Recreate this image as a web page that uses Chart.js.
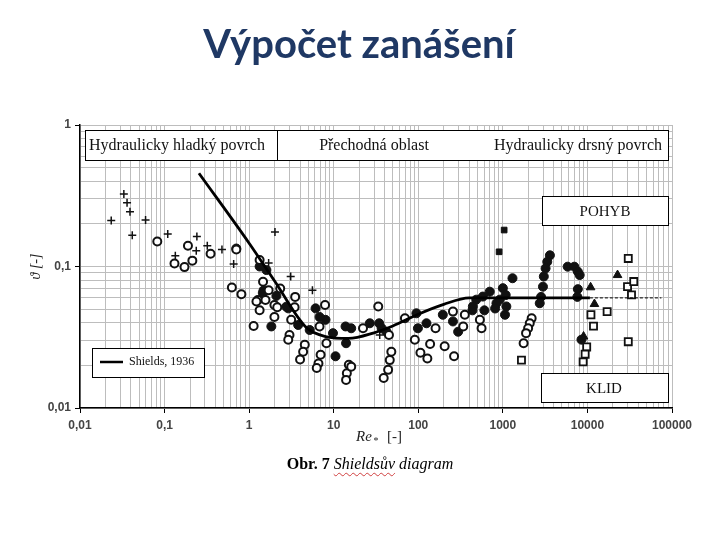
<!DOCTYPE html>
<html>
<head>
<meta charset="utf-8">
<script src="https://cdn.jsdelivr.net/npm/chart.js@4"></script>
<style>
  body { margin: 0; background: #fff; }
  #wrap { position: relative; width: 720px; height: 540px; }
  #title { position: absolute; left: 0; top: 23px; width: 718px; text-align: center;
    font: bold 40px Lato, "Open Sans", sans-serif; line-height: 40px; color: #1f3864; }
  #caption { position: absolute; left: 0; top: 455px; width: 740px; text-align: center;
    font: 16px "Liberation Serif", serif; color: #000; }
  #caption i { text-decoration: underline wavy #d04040; text-decoration-thickness: 1px; text-underline-offset: 3px; }
  canvas { position: absolute; left: 0; top: 0; }
</style>
</head>
<body>
<div id="wrap">
  <canvas id="chart" width="720" height="540"></canvas>
  <div id="title">Výpočet zanášení</div>
  <div id="caption"><b>Obr. 7</b> <i>Shieldsův</i> <i style="text-decoration:none">diagram</i></div>
</div>
<script>
// axis decades (tick labels use a comma as decimal sign)
const xDecades = [0.01, 0.1, 1, 10, 100, 1000, 10000, 100000];
const yDecades = [0.01, 0.1, 1];

// Shields curve, 1936
const shieldsX = [0.255, 1, 2, 4.75, 8, 15, 30, 50, 100, 200, 400, 10700];
const shieldsY = [0.456, 0.146, 0.079, 0.037, 0.032, 0.031, 0.034, 0.038, 0.046, 0.054, 0.06, 0.06];
const shieldsDashX = [10700, 75000];
const shieldsDashY = [0.06, 0.06];

// measured points [Re*, theta]
const plusPts = [[0.0234,0.211],[0.033,0.325],[0.036,0.282],[0.039,0.244],[0.0415,0.166],[0.0596,0.213],
  [0.109,0.17],[0.134,0.119],[0.241,0.163],[0.237,0.129],[0.32,0.14],[0.477,0.132],[0.656,0.104],
  [1.7,0.106],[2.02,0.175],[3.1,0.085],[5.6,0.068],[35,0.0328]];

const openCircles = [[0.082,0.15],[0.131,0.105],[0.172,0.099],[0.213,0.11],[0.189,0.14],[0.35,0.123],
  [0.705,0.132],[0.625,0.071],[0.81,0.0636],[1.33,0.111],[1.46,0.078],[1.27,0.058],[1.56,0.058],
  [1.7,0.068],[1.99,0.0535],[2.15,0.0515],[2.33,0.07],[3.5,0.061],[3.45,0.0515],[1.13,0.038],
  [1.99,0.044],[3.14,0.042],[3.0,0.0328],[2.9,0.0304],[4.55,0.028],[4.35,0.025],[4.0,0.022],
  [7.9,0.0535],[6.8,0.0377],[8.2,0.0287],[7.0,0.0238],[6.6,0.0206],[6.3,0.0192],[15.1,0.0202],
  [14.3,0.0176],[14.0,0.0158],[16.1,0.0196],[22.2,0.0366],[33.6,0.0521],[69.5,0.0431],[45,0.0328],
  [91,0.0304],[48,0.025],[46,0.0218],[44,0.0186],[39,0.0163],[106,0.0246],[128,0.0224],[138,0.0283],
  [160,0.0366],[205,0.0273],[265,0.0232],[257,0.048],[355,0.0456],[340,0.0377],[535,0.042],
  [560,0.0366],[2190,0.043],[2080,0.0397],[1990,0.0366],[1880,0.0338],[1760,0.0287],[1.22,0.0566],
  [1.33,0.049]];

const filledCircles = [[1.83,0.0377],[2.9,0.0506],[3.8,0.0386],[5.2,0.0356],[6.1,0.0506],[8.0,0.042],
  [9.8,0.0338],[10.5,0.0232],[13.8,0.0377],[14.0,0.0287],[1.48,0.0677],[1.6,0.0944],[0.705,0.134],
  [2.75,0.052],[1.45,0.065],[2.1,0.062],[1.33,0.1],[6.8,0.044],[16.1,0.0366],[26.7,0.0397],
  [34.5,0.0397],[36.9,0.0366],[42,0.0346],[95,0.0467],[99,0.0366],[125,0.0397],[195,0.0456],
  [257,0.0409],[296,0.0346],[437,0.049],[1300,0.0826],[1000,0.0703],[1080,0.0629],[920,0.0583],
  [1100,0.0522],[840,0.055],[1060,0.0456],[810,0.0505],[485,0.0583],[442,0.0522],[605,0.049],
  [580,0.0613],[700,0.0664],[3600,0.12],[3350,0.108],[3200,0.097],[3050,0.085],[2980,0.072],
  [2830,0.061],[2730,0.055],[5840,0.0997],[7000,0.0997],[7700,0.092],[8100,0.087],[7700,0.0692],
  [7600,0.061],[8500,0.0304]];

const filledSquares = [[1036,0.181],[903,0.127]];

const openSquares = [[1660,0.0218],[11000,0.0456],[11800,0.0379],[9800,0.027],[9400,0.024],
  [8900,0.0212],[30400,0.114],[29800,0.072],[35300,0.0783],[33200,0.063],[17100,0.048],[30400,0.0294]];

const triangles = [[10900,0.0713],[12100,0.0543],[22700,0.087],[9000,0.032]];

const toXY = arr => arr.map(p => ({ x: p[0], y: p[1] }));
const isDecade = v => Math.abs(Math.log10(v) - Math.round(Math.log10(v))) < 1e-6;

function logTicks(decades) {
  const t = [];
  decades.forEach((d, i) => {
    if (i === decades.length - 1) { t.push({ value: d, major: true }); return; }
    for (let k = 1; k < 10; k++) t.push({ value: d * k, major: k === 1 });
  });
  return t;
}
const label = v => isDecade(v) ? String(+v.toPrecision(6)).replace('.', ',') : '';

const tickFont = { family: '"Liberation Sans", Arial, sans-serif', size: 12, weight: 'bold' };

const overlay = {
  id: 'overlay',
  afterDatasetsDraw(chart) {
    const c = chart.ctx;
    c.save();
    c.lineWidth = 1;
    c.strokeStyle = '#000';
    function box(x, y, w, h) {
      c.fillStyle = '#fff';
      c.fillRect(x, y, w, h);
      c.strokeRect(x + 0.5, y + 0.5, w, h);
    }
    c.fillStyle = '#000';
    c.textBaseline = 'middle';
    // regime banner
    box(85, 130, 583, 30);
    c.beginPath(); c.moveTo(277.5, 130); c.lineTo(277.5, 160); c.stroke();
    c.fillStyle = '#111';
    c.font = '16px "Liberation Serif", serif';
    c.textAlign = 'left';
    c.fillText('Hydraulicky hladký povrch', 89, 146);
    c.textAlign = 'center';
    c.fillText('Přechodná oblast', 374, 146);
    c.textAlign = 'right';
    c.fillText('Hydraulicky drsný povrch', 662, 146);
    // POHYB / KLID
    box(542, 196, 126, 29);
    box(541, 373, 127, 29);
    c.fillStyle = '#111';
    c.textAlign = 'center';
    c.font = '15px "Liberation Serif", serif';
    c.fillText('POHYB', 605, 212);
    c.fillText('KLID', 604, 389);
    // legend
    box(92, 348, 112, 29);
    c.lineWidth = 2.5;
    c.beginPath(); c.moveTo(100, 362); c.lineTo(123, 362); c.stroke();
    c.fillStyle = '#111';
    c.textAlign = 'left';
    c.font = '12px "Liberation Serif", serif';
    c.fillText('Shields, 1936', 129, 362);
    c.restore();
  },
  afterDraw(chart) {
    const c = chart.ctx;
    const a = chart.chartArea;
    c.save();
    c.fillStyle = '#222';
    c.textBaseline = 'alphabetic';
    // x title: Re* [-]
    c.font = 'italic 15px "Liberation Serif", serif';
    c.textAlign = 'left';
    c.fillText('Re', 356, 441);
    c.font = 'italic 10px "Liberation Serif", serif';
    c.fillText('*', 373, 444);
    c.font = '15px "Liberation Serif", serif';
    c.fillText('[-]', 387, 441);
    // y title: theta [-]
    c.translate(40, (a.top + a.bottom) / 2);
    c.rotate(-Math.PI / 2);
    c.textAlign = 'center';
    c.font = 'italic 14px "Liberation Serif", serif';
    c.fillText('\u03d1 [-]', 0, 0);
    c.restore();
  }
};

const pointSet = (lbl, data, style, fill, radius, bw) => ({
  label: lbl, data: toXY(data), showLine: false, order: 2,
  pointStyle: style, pointRadius: radius, pointBackgroundColor: fill,
  pointBorderColor: '#111', pointBorderWidth: bw
});

new Chart(document.getElementById('chart'), {
  type: 'scatter',
  data: {
    datasets: [
      pointSet('plus', plusPts, 'cross', '#111', 4, 1.5),
      pointSet('open circles', openCircles, 'circle', '#fff', 4, 2),
      pointSet('filled circles', filledCircles, 'circle', '#111', 4.5, 1),
      pointSet('filled squares', filledSquares, 'rect', '#111', 4, 1),
      pointSet('open squares', openSquares, 'rect', '#fff', 5, 1.8),
      pointSet('triangles', triangles, 'triangle', '#111', 5, 1),
      {
        label: 'Shields, 1936',
        data: shieldsX.map((x, i) => ({ x, y: shieldsY[i] })),
        showLine: true, order: 0, pointRadius: 0, borderColor: '#000', borderWidth: 2.8,
        cubicInterpolationMode: 'monotone'
      },
      {
        label: 'Shields extension',
        data: shieldsDashX.map((x, i) => ({ x, y: shieldsDashY[i] })),
        showLine: true, order: 0, pointRadius: 0, borderColor: '#000', borderWidth: 1,
        borderDash: [3, 2]
      }
    ]
  },
  options: {
    responsive: false,
    animation: false,
    layout: { padding: { top: 125, right: 48, left: 0, bottom: 0 } },
    plugins: { legend: { display: false }, tooltip: { enabled: false } },
    scales: {
      x: {
        type: 'logarithmic', min: 0.01, max: 100000,
        afterBuildTicks: s => { s.ticks = logTicks(xDecades); },
        afterFit: s => { s.height = 132; },
        ticks: { callback: v => label(v), autoSkip: false, maxRotation: 0, padding: 5, color: '#444', font: tickFont },
        grid: { color: '#bdbdbd', lineWidth: 1, tickLength: 5,
          tickColor: ctx => (ctx.tick && isDecade(ctx.tick.value)) ? '#000' : 'rgba(0,0,0,0)' },
        border: { color: '#000', width: 1.5 }
      },
      y: {
        type: 'logarithmic', min: 0.01, max: 1,
        afterBuildTicks: s => { s.ticks = logTicks(yDecades); },
        afterFit: s => { s.width = 80; },
        ticks: { callback: v => label(v), autoSkip: false, padding: 4, color: '#444', font: tickFont },
        grid: { color: '#bdbdbd', lineWidth: 1, tickLength: 5,
          tickColor: ctx => (ctx.tick && isDecade(ctx.tick.value)) ? '#000' : 'rgba(0,0,0,0)' },
        border: { color: '#000', width: 1.5 }
      }
    }
  },
  plugins: [overlay]
});
</script>
</body>
</html>
